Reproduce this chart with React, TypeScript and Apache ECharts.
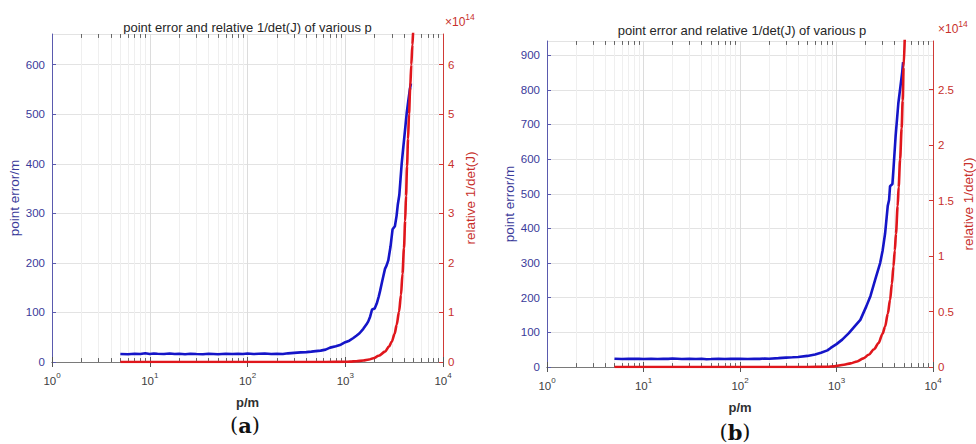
import React, { useEffect, useRef } from "react";
import * as echarts from "echarts";

const FONT = '"Liberation Sans", Arial, Helvetica, sans-serif';
const SERIF = '"DejaVu Serif", "Liberation Serif", serif';
const BLUE = "#1515c8";
const RED = "#e0161c";
const LEFT_TXT = "#3a3a9a";
const RIGHT_TXT = "#c8302c";

const TITLE = "point error and relative 1/det(J) of various p";
const X_NAME = "p/m";
const Y_LEFT_NAME = "point error/m";
const Y_RIGHT_NAME = "relative 1/det(J)";
const X_MIN = 1;
const X_MAX = 10000;
const MINOR_GRID_P = [
  2, 3, 4, 5, 6, 7, 8, 9, 20, 30, 40, 50, 60, 70, 80, 90, 200, 300, 400, 500, 600, 700, 800, 900,
  2000, 3000, 4000, 5000, 6000, 7000, 8000, 9000,
];

// ---- chart (a) ----
const pErrA = [
  5, 6, 7, 8, 9, 10, 11, 12, 14, 16, 18, 20, 23, 26, 30, 35, 40, 45, 50, 60, 70, 80, 90, 100, 115, 130,
  150, 175, 200, 230, 260, 300, 350, 400, 450, 500, 560, 630, 700, 800, 900, 1000, 1100, 1200, 1300,
  1400, 1530, 1650, 1720, 1800, 1880, 2000, 2100, 2200, 2270, 2400, 2550, 2650, 2755, 2900, 3050, 3220,
  3350, 3450, 3573, 3680, 3778, 3900, 4050, 4252, 4420, 4596, 4700,
];
const errA = [
  16, 15.5, 16.5, 16, 17.5, 16, 17, 16.5, 16, 17, 16, 16.5, 15.5, 16.5, 16, 15.5, 16.5, 16, 15.5, 16.5,
  16, 16.5, 16, 17, 16, 16.5, 17, 16, 16.5, 16, 17.5, 18.5, 19.5, 20, 21, 22, 23, 25, 29, 32, 35, 40, 43,
  48, 53, 58, 67, 76, 82, 92, 106, 108, 118, 132, 143, 165, 188, 195, 205, 232, 268, 274, 295, 318, 337,
  370, 400, 428, 460, 502, 528, 552, 562,
];
const pDetA = [
  5, 500, 800, 1000, 1119, 1300, 1531, 1750, 1937, 2200, 2552, 2800, 2988, 3200, 3357, 3550, 3716, 3850,
  3989, 4100, 4186, 4285, 4390, 4490, 4620, 4742, 4860, 4966, 5000,
];
const detA = [
  0, 0, 0.002, 0.005, 0.008, 0.016, 0.03, 0.05, 0.075, 0.125, 0.21, 0.31, 0.41, 0.57, 0.75, 1.02, 1.35,
  1.78, 2.3, 2.85, 3.35, 3.95, 4.5, 5.0, 5.55, 6.0, 6.4, 6.7, 6.8,
];
const LEFT_MAX_A = 662;
const LEFT_INT_A = 100;
const RIGHT_MAX_A = 6.62;
const RIGHT_INT_A = 1;

// ---- chart (b) ----
const pErrB = [
  5, 6, 7, 8, 9, 10, 12, 14, 16, 18, 20, 25, 30, 35, 40, 45, 50, 60, 70, 80, 90, 100, 120, 140, 160, 180,
  200, 250, 300, 350, 400, 500, 600, 690, 805, 871, 1000, 1146, 1342, 1550, 1766, 2036, 2250, 2518, 2833,
  3000, 3085, 3190, 3397, 3506, 3589, 3796, 3890, 4100, 4376, 4600, 4800, 4900,
];
const errB = [
  24, 23, 24, 23.5, 24, 23, 24, 23, 24, 23.5, 24.5, 23, 24, 23, 24, 22.5, 23, 24, 23, 24, 23.5, 24, 23,
  24, 23.5, 24.5, 24, 25.5, 27, 28, 29, 32, 36, 41, 48, 55, 66, 79, 98, 118, 136, 175, 205, 252, 300, 335,
  358, 386, 465, 482, 522, 528, 570, 667, 762, 810, 852, 880,
];
const pDetB = [
  5, 500, 800, 943, 1194, 1400, 1633, 1900, 2154, 2450, 2727, 3000, 3189, 3400, 3589, 3750, 3890, 4020,
  4132, 4303, 4404, 4560, 4731, 4850, 4955, 5100,
];
const detB = [
  0, 0, 0.002, 0.006, 0.02, 0.033, 0.05, 0.078, 0.11, 0.16, 0.216, 0.3, 0.365, 0.48, 0.605, 0.75, 0.905,
  1.05, 1.2, 1.45, 1.62, 1.87, 2.15, 2.4, 2.7, 2.97,
];
const LEFT_MAX_B = 941;
const LEFT_INT_B = 100;
const RIGHT_MAX_B = 2.937;
const RIGHT_INT_B = 0.5;

const zip = (xs: number[], ys: number[]) => xs.map((x, i) => [x, ys[i]]);

type Panel = {
  grid: { left: number; top: number; width: number; height: number };
  pErr: number[];
  err: number[];
  pDet: number[];
  det: number[];
  leftMax: number;
  leftInt: number;
  rightMax: number;
  rightInt: number;
  leftGap: number;
  rightGap: number;
};

const panels: Panel[] = [
  {
    grid: { left: 52, top: 34, width: 391, height: 328 },
    pErr: pErrA, err: errA, pDet: pDetA, det: detA,
    leftMax: LEFT_MAX_A, leftInt: LEFT_INT_A, rightMax: RIGHT_MAX_A, rightInt: RIGHT_INT_A,
    leftGap: 30, rightGap: 20,
  },
  {
    grid: { left: 547, top: 41, width: 390, height: 326 },
    pErr: pErrB, err: errB, pDet: pDetB, det: detB,
    leftMax: LEFT_MAX_B, leftInt: LEFT_INT_B, rightMax: RIGHT_MAX_B, rightInt: RIGHT_INT_B,
    leftGap: 30, rightGap: 28,
  },
];

function buildOption() {
  const grid: any[] = [];
  const xAxis: any[] = [];
  const yAxis: any[] = [];
  const series: any[] = [];
  const graphic: any[] = [];

  panels.forEach((pn, i) => {
    grid.push({ ...pn.grid, containLabel: false });
    const xb = {
      type: "log",
      logBase: 10,
      min: X_MIN,
      max: X_MAX,
      gridIndex: i,
      position: "bottom",
      axisLine: { show: true, lineStyle: { color: "#7a7a7a", width: 1 } },
      axisTick: { show: true, inside: true, length: 5, lineStyle: { color: "#555" } },
      axisLabel: {
        margin: 9,
        formatter: (v: number) => `{b|10}{s|${Math.round(Math.log10(v))}}`,
        rich: {
          b: { fontSize: 11.5, fontFamily: FONT, color: "#404040", lineHeight: 16, verticalAlign: "bottom" },
          s: { fontSize: 8, fontFamily: FONT, color: "#404040", lineHeight: 11, verticalAlign: "top" },
        },
      },
      splitLine: { show: true, lineStyle: { color: "#dcdcdc", width: 1 } },
      name: X_NAME,
      nameLocation: "middle",
      nameGap: 34,
      nameTextStyle: { fontFamily: FONT, fontWeight: "bold", fontSize: 13, color: "#303030" },
    };
    const xt = {
      type: "log",
      logBase: 10,
      min: X_MIN,
      max: X_MAX,
      gridIndex: i,
      position: "top",
      axisLine: { show: true, lineStyle: { color: "#7a7a7a", width: 1 } },
      axisTick: { show: true, inside: true, length: 5, lineStyle: { color: "#555" } },
      axisLabel: { show: false },
      splitLine: { show: false },
    };
    xAxis.push(xb, xt);
    const xIdx = i * 2;

    yAxis.push({
      type: "value",
      gridIndex: i,
      position: "left",
      min: 0,
      max: pn.leftMax,
      interval: pn.leftInt,
      axisLine: { show: true, lineStyle: { color: "#5a5aae", width: 1 } },
      axisTick: { show: true, inside: true, length: 4, lineStyle: { color: "#5a5aae" } },
      axisLabel: { color: LEFT_TXT, fontFamily: FONT, fontSize: 11.5, margin: 7, showMaxLabel: false },
      splitLine: { show: true, lineStyle: { color: "#e3e3e3", width: 1 } },
      name: Y_LEFT_NAME,
      nameLocation: "middle",
      nameGap: pn.leftGap,
      nameTextStyle: { color: LEFT_TXT, fontFamily: FONT, fontSize: 13.5 },
    });
    yAxis.push({
      type: "value",
      gridIndex: i,
      position: "right",
      min: 0,
      max: pn.rightMax,
      interval: pn.rightInt,
      axisLine: { show: true, lineStyle: { color: "#d03a36", width: 1 } },
      axisTick: { show: true, inside: true, length: 4, lineStyle: { color: "#d03a36" } },
      axisLabel: { color: RIGHT_TXT, fontFamily: FONT, fontSize: 11.5, margin: 5, showMaxLabel: false },
      splitLine: { show: false },
      name: Y_RIGHT_NAME,
      nameLocation: "middle",
      nameGap: pn.rightGap,
      nameTextStyle: { color: RIGHT_TXT, fontFamily: FONT, fontSize: 13.5 },
    });
    const yL = i * 2;
    const yR = i * 2 + 1;

    const tl = pn.leftMax * 0.012;
    const tickColor = "#666";
    const markData: any[] = [];
    MINOR_GRID_P.forEach((p) => markData.push({ xAxis: p }));
    MINOR_GRID_P.forEach((p) => {
      markData.push([{ coord: [p, 0], lineStyle: { color: tickColor } }, { coord: [p, tl] }]);
      markData.push([{ coord: [p, pn.leftMax], lineStyle: { color: tickColor } }, { coord: [p, pn.leftMax - tl] }]);
    });

    series.push({
      type: "line",
      xAxisIndex: xIdx,
      yAxisIndex: yL,
      data: [[1, 0]],
      symbol: "none",
      lineStyle: { width: 0, opacity: 0 },
      silent: true,
      z: 1,
      markLine: {
        z: 1,
        silent: true,
        animation: false,
        symbol: ["none", "none"],
        label: { show: false },
        lineStyle: { color: "#efefef", width: 1, type: "solid" },
        emphasis: { disabled: true },
        data: markData,
      },
    });
    series.push({
      type: "line",
      xAxisIndex: xIdx,
      yAxisIndex: yL,
      data: zip(pn.pErr, pn.err),
      symbol: "none",
      showSymbol: false,
      lineStyle: { color: BLUE, width: 2.6 },
      z: 3,
    });
    series.push({
      type: "line",
      xAxisIndex: xIdx,
      yAxisIndex: yR,
      data: zip(pn.pDet, pn.det),
      symbol: "none",
      showSymbol: false,
      smooth: 0.3,
      smoothMonotone: "x",
      lineStyle: { color: RED, width: 2.6 },
      z: 4,
    });
  });

  // titles
  graphic.push({
    type: "text",
    x: 247.5,
    y: 27.5,
    style: { text: TITLE, fontFamily: FONT, fontSize: 13, fill: "#262626", align: "center", verticalAlign: "middle" },
  });
  graphic.push({
    type: "text",
    x: 742,
    y: 30.5,
    style: { text: TITLE, fontFamily: FONT, fontSize: 13, fill: "#262626", align: "center", verticalAlign: "middle" },
  });
  // exponent labels
  const expRich = {
    b: { fontFamily: FONT, fontSize: 12, fill: RIGHT_TXT, lineHeight: 16, verticalAlign: "bottom" },
    s: { fontFamily: FONT, fontSize: 8.5, fill: RIGHT_TXT, lineHeight: 11, verticalAlign: "top" },
  };
  graphic.push({
    type: "text",
    x: 445,
    y: 20,
    style: { text: "{b|×10}{s|14}", rich: expRich, align: "left", verticalAlign: "middle" },
  });
  graphic.push({
    type: "text",
    x: 938,
    y: 27,
    style: { text: "{b|×10}{s|14}", rich: expRich, align: "left", verticalAlign: "middle" },
  });
  // sub-figure labels
  const subRich = {
    n: { fontFamily: SERIF, fontSize: 21, fill: "#111" },
    b: { fontFamily: SERIF, fontSize: 21, fontWeight: "bold", fill: "#111" },
  };
  graphic.push({
    type: "text",
    x: 245,
    y: 425,
    style: { text: "{n|(}{b|a}{n|)}", rich: subRich, align: "center", verticalAlign: "middle" },
  });
  graphic.push({
    type: "text",
    x: 735,
    y: 432,
    style: { text: "{n|(}{b|b}{n|)}", rich: subRich, align: "center", verticalAlign: "middle" },
  });

  return {
    animation: false,
    backgroundColor: "#ffffff",
    grid,
    xAxis,
    yAxis,
    series,
    graphic,
  };
}

export default function App() {
  const ref = useRef<HTMLDivElement>(null);
  useEffect(() => {
    if (!ref.current) return;
    const chart = echarts.init(ref.current, undefined, { renderer: "svg" });
    chart.setOption(buildOption() as any);
    return () => chart.dispose();
  }, []);
  return (
    <div
      ref={ref}
      style={{ position: "absolute", left: 0, top: 0, width: 976, height: 444, background: "#fff" }}
    />
  );
}
